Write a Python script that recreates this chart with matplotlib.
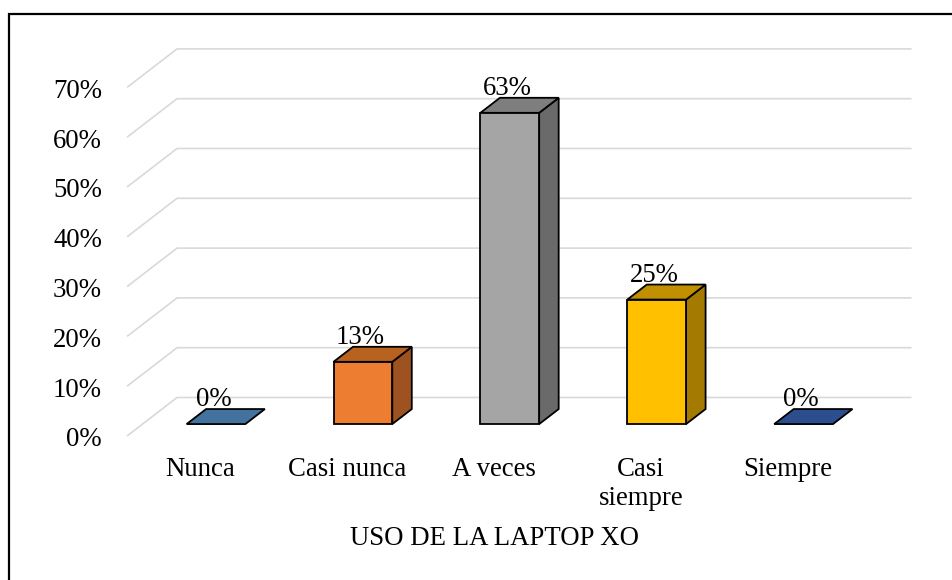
import matplotlib
matplotlib.use("Agg")
import matplotlib.pyplot as plt
from matplotlib.patches import Polygon
from matplotlib.lines import Line2D

# ---------------- data ----------------
categories = ["Nunca", "Casi nunca", "A veces", "Casi\nsiempre", "Siempre"]
values = [0.0, 12.5, 62.5, 25.0, 0.0]
yticks = [0, 10, 20, 30, 40, 50, 60, 70]
axis_title = "USO DE LA LAPTOP XO"

front_colors = ["#5B9BD5", "#ED7D31", "#A5A5A5", "#FFC000", "#2F5597"]
top_colors = ["#44729F", "#B8621F", "#7E7E7E", "#C09000", "#2D4E8E"]
side_colors = ["#3A628A", "#9E5220", "#6A6A6A", "#A47B00", "#233F72"]

# ---------------- layout (pixels) ----------------
W_PX, H_PX = 953, 580
CAT0_X = 200.5      # category 0 centre on the front plane
CAT_STEP = 146.9    # pixels per category
ZERO_Y = 436.0      # 0% on the front plane
PX_PER_PCT = 4.98
DEPTH_DX_PX, DEPTH_DY_PX = 50.0, 38.5   # front plane -> back wall
BAR_W = 0.40
BAR_D0, BAR_D1 = 0.31, 0.70

DX = DEPTH_DX_PX / CAT_STEP        # depth in category units
DY = DEPTH_DY_PX / PX_PER_PCT      # depth in percent units

FONT = "Liberation Serif"
FS = 19.3

fig = plt.figure(figsize=(W_PX / 100, H_PX / 100), dpi=100)
ax = fig.add_axes([0, 0, 1, 1])
ax.set_xlim(-CAT0_X / CAT_STEP, (W_PX - CAT0_X) / CAT_STEP)
ax.set_ylim((ZERO_Y - H_PX) / PX_PER_PCT, ZERO_Y / PX_PER_PCT)
ax.axis("off")


def px_to_data(xp, yp):
    return (xp - CAT0_X) / CAT_STEP, (ZERO_Y - yp) / PX_PER_PCT


# outer frame (clipped by the image on right and bottom)
fx = 9 / W_PX
fy = 1 - 14 / H_PX
fig.add_artist(Line2D([fx, fx, 1.01], [-0.01, fy, fy], transform=fig.transFigure,
                      color="black", lw=1.6, solid_joinstyle="miter"))

# gridlines: short diagonal on the side wall + horizontal on the back wall
x_left, x_right = -0.5, len(categories) - 0.5
tick_x, _ = px_to_data(102, 0)
tick_shift = 4.0 / PX_PER_PCT
for p in yticks:
    ax.plot([x_left, x_left + DX, x_right + DX], [p, p + DY, p + DY],
            color="#D9D9D9", lw=1.2, zorder=1, solid_capstyle="butt")
    ax.text(tick_x, p - tick_shift, f"{p}%", ha="right", va="center", fontsize=FS,
            family=FONT, color="black")

# bars
ddx = (BAR_D1 - BAR_D0) * DX
ddy = (BAR_D1 - BAR_D0) * DY
for i, v in enumerate(values):
    xl = i - BAR_W / 2 + BAR_D0 * DX
    xr = i + BAR_W / 2 + BAR_D0 * DX
    yb = BAR_D0 * DY
    yt = v + BAR_D0 * DY
    ec = dict(edgecolor="black", lw=1.3, joinstyle="miter")
    if v > 0:
        ax.add_patch(Polygon([(xr, yb), (xr + ddx, yb + ddy), (xr + ddx, yt + ddy), (xr, yt)],
                             closed=True, facecolor=side_colors[i], zorder=3, **ec))
    ax.add_patch(Polygon([(xl, yt), (xr, yt), (xr + ddx, yt + ddy), (xl + ddx, yt + ddy)],
                         closed=True, facecolor=top_colors[i], zorder=3, **ec))
    if v > 0:
        ax.add_patch(Polygon([(xl, yb), (xr, yb), (xr, yt), (xl, yt)],
                             closed=True, facecolor=front_colors[i], zorder=4, **ec))
    # data label
    lx = (xl + xr) / 2 - 2.5 / CAT_STEP
    ly = yt + ddy + 3 / PX_PER_PCT
    ax.text(lx, ly, f"{int(v + 0.5)}%", ha="center", va="baseline", fontsize=FS,
            family=FONT, color="black", zorder=5)

# category labels on the front plane
_, cy = px_to_data(0, 457)
for i, c in enumerate(categories):
    ax.text(i, cy, c, ha="center", va="top", fontsize=FS, family=FONT,
            color="black", linespacing=1.2)

# axis title
tx, ty = px_to_data(494, 526)
ax.text(tx, ty, axis_title, ha="center", va="top", fontsize=FS, family=FONT, color="black")

fig.savefig("out.png", dpi=100)
